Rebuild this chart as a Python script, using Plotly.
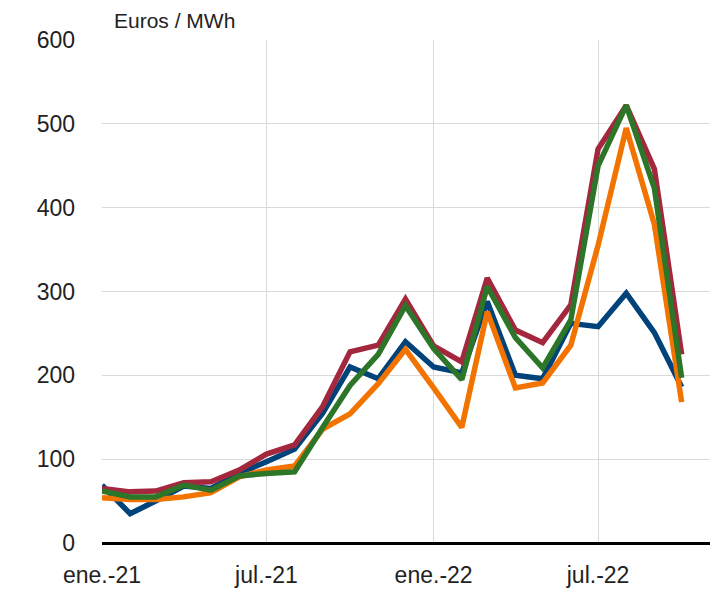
import plotly.graph_objects as go

months = ["2021-01-01", "2021-02-01", "2021-03-01", "2021-04-01", "2021-05-01", "2021-06-01",
          "2021-07-01", "2021-08-01", "2021-09-01", "2021-10-01", "2021-11-01", "2021-12-01",
          "2022-01-01", "2022-02-01", "2022-03-01", "2022-04-01", "2022-05-01", "2022-06-01",
          "2022-07-01", "2022-08-01", "2022-09-01", "2022-10-01"]

blue = [69, 35, 50, 68, 65, 83, 97, 112, 155, 210, 196, 240, 210, 203, 288, 200, 196, 262, 258, 298, 251, 186]
red = [65, 61, 62, 72, 73, 87, 106, 117, 163, 228, 236, 291, 235, 216, 316, 254, 239, 284, 470, 522, 446, 225]
orange = [54, 52, 52, 55, 60, 79, 87, 92, 136, 154, 190, 231, 185, 138, 276, 185, 191, 236, 355, 495, 380, 168]
green = [62, 55, 55, 69, 63, 80, 83, 85, 138, 188, 225, 283, 232, 195, 306, 245, 209, 266, 450, 522, 423, 197]

tick_vals = ["2021-01-01", "2021-07-01", "2022-01-01", "2022-07-01"]
tick_text = ["ene.-21", "jul.-21", "ene.-22", "jul.-22"]
y_ticks = [0, 100, 200, 300, 400, 500, 600]

series = [
    ("Serie 1", blue, "#00427a"),
    ("Serie 2", red, "#a3283d"),
    ("Serie 3", orange, "#f27300"),
    ("Serie 4", green, "#2c7529"),
]

fig = go.Figure()
for name, vals, col in series:
    fig.add_trace(go.Scatter(x=months, y=vals, mode="lines", name=name,
                             line=dict(color=col, width=5.5)))

font_family = "Liberation Sans, Arial, sans-serif"
txt_col = "#222222"
fig.update_layout(
    width=710, height=585,
    margin=dict(l=94, r=0, t=32, b=50),
    paper_bgcolor="white", plot_bgcolor="white",
    showlegend=False,
    font=dict(family=font_family, color=txt_col, size=23),
    xaxis=dict(
        type="date",
        range=["2021-01-01", "2022-11-10"],
        tickvals=tick_vals, ticktext=tick_text,
        showgrid=True, gridcolor="#d9d9d9", gridwidth=1,
        showline=False, zeroline=False, ticks="",
        automargin=False,
        ticklabelstandoff=16,
        tickfont=dict(size=23, family=font_family, color=txt_col),
    ),
    yaxis=dict(
        range=[0, 600],
        tickvals=y_ticks,
        showgrid=True, gridcolor="#d9d9d9", gridwidth=1,
        zeroline=True, zerolinecolor="#000000", zerolinewidth=3,
        showline=False, ticks="",
        automargin=False,
        ticklabelstandoff=26,
        tickfont=dict(size=23, family=font_family, color=txt_col),
    ),
    annotations=[dict(
        text="Euros / MWh", xref="paper", yref="paper", x=0.017, y=1.0,
        xanchor="left", yanchor="bottom", yshift=6, showarrow=False,
        font=dict(size=21, family=font_family, color=txt_col),
    )],
)

fig.write_html("out.html")
